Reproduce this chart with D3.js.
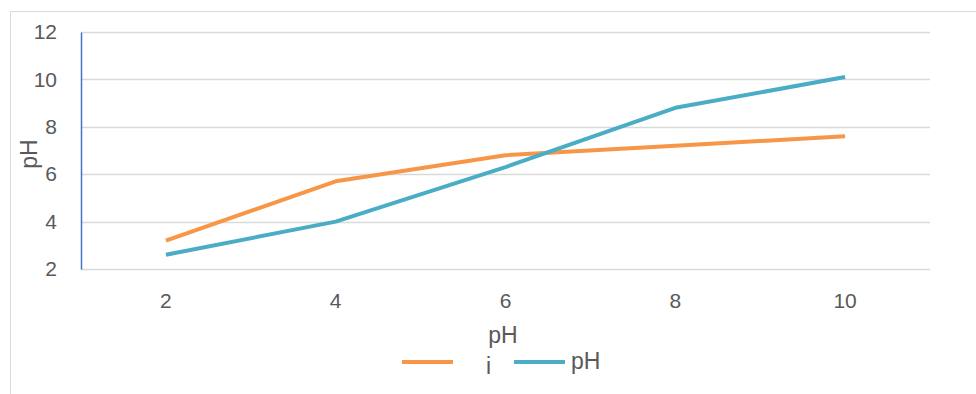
<!DOCTYPE html>
<html>
<head>
<meta charset="utf-8">
<script src="https://cdn.jsdelivr.net/npm/d3@7"></script>
<style>
  html, body { margin: 0; padding: 0; background: #fff; }
  svg { display: block; }
  svg text { font-family: "Liberation Sans", Arial, sans-serif; }
</style>
</head>
<body>
<svg id="chart" width="976" height="394"></svg>
<script>
// Category labels along the x axis
const categories = ["2", "4", "6", "8", "10"];
// Series values
const seriesNames = ["i", "pH"];
const seriesI = [3.2, 5.7, 6.8, 7.2, 7.6];
const seriesPH = [2.6, 4.0, 6.3, 8.8, 10.1];
const seriesColors = ["#F79646", "#4BACC6"];
// Y axis ticks
const yTicks = [2, 4, 6, 8, 10, 12];

const svg = d3.select("#chart");
const margin = { left: 81, right: 46, top: 32, bottom: 125 };
const W = 976, H = 394;
const plotW = W - margin.left - margin.right;
const plotH = H - margin.top - margin.bottom;

// Chart frame
svg.append("rect")
  .attr("x", 10.5).attr("y", 11.5)
  .attr("width", W).attr("height", H)
  .attr("fill", "#fff").attr("stroke", "#d9d9d9").attr("stroke-width", 1);

const g = svg.append("g").attr("transform", `translate(${margin.left},${margin.top})`);

const x = d3.scaleBand().domain(categories).range([0, plotW]);
const y = d3.scaleLinear().domain([2, 12]).range([plotH, 0]);

// Horizontal gridlines
g.append("g").selectAll("line").data(yTicks).join("line")
  .attr("x1", 0).attr("x2", plotW)
  .attr("y1", d => Math.round(y(d)) + 0.5).attr("y2", d => Math.round(y(d)) + 0.5)
  .attr("stroke", "#d9d9d9").attr("stroke-width", 1.5);

// Y axis
const yAxis = g.append("g").call(d3.axisLeft(y).tickValues(yTicks).tickSize(0).tickPadding(24));
yAxis.attr("font-size", 21).attr("font-family", null);
yAxis.select(".domain").attr("stroke", "#4472C4").attr("stroke-width", 1.5);
yAxis.selectAll("text").attr("fill", "#595959");

// X axis labels
const xAxis = g.append("g").attr("transform", `translate(0,${plotH})`)
  .call(d3.axisBottom(x).tickSize(0).tickPadding(24));
xAxis.attr("font-size", 21).attr("font-family", null);
xAxis.select(".domain").remove();
xAxis.selectAll("text").attr("fill", "#595959");

// Series lines
const line = d3.line().x((d, i) => x(categories[i]) + x.bandwidth() / 2).y(d => y(d));
[seriesI, seriesPH].forEach((vals, k) => {
  g.append("path").datum(vals)
    .attr("d", line)
    .attr("fill", "none")
    .attr("stroke", seriesColors[k])
    .attr("stroke-width", 4)
    .attr("stroke-linejoin", "round");
});

// Axis titles
svg.append("text")
  .attr("transform", "translate(37,154) rotate(-90)")
  .attr("text-anchor", "middle")
  .attr("fill", "#595959").attr("font-size", 23)
  .text("pH");
svg.append("text")
  .attr("x", 503).attr("y", 343)
  .attr("text-anchor", "middle")
  .attr("fill", "#595959").attr("font-size", 23)
  .text("pH");

// Legend
const legend = [
  { x1: 402, x2: 453, tx: 486, ty: 374 },
  { x1: 514, x2: 565, tx: 571, ty: 369 }
];
legend.forEach((l, k) => {
  svg.append("line")
    .attr("x1", l.x1).attr("x2", l.x2).attr("y1", 362).attr("y2", 362)
    .attr("stroke", seriesColors[k]).attr("stroke-width", 4);
  svg.append("text")
    .attr("x", l.tx).attr("y", l.ty)
    .attr("fill", "#595959").attr("font-size", 23)
    .text(seriesNames[k]);
});
</script>
</body>
</html>
